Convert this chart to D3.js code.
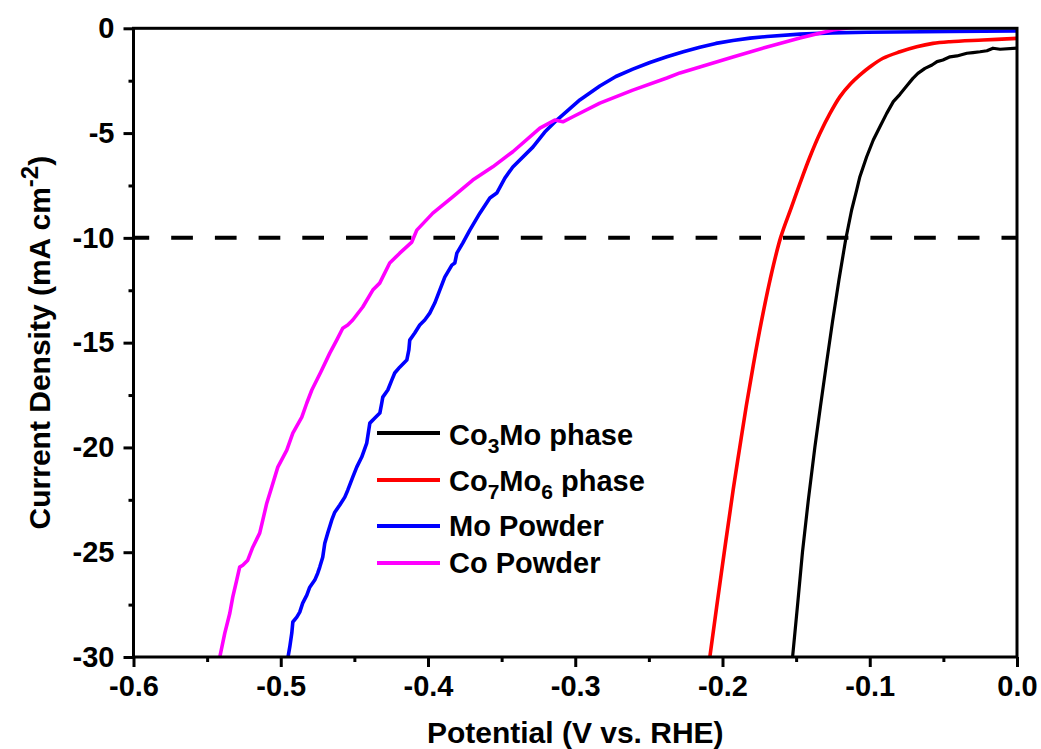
<!DOCTYPE html>
<html>
<head>
<meta charset="utf-8">
<script src="https://cdn.jsdelivr.net/npm/d3@7"></script>
<style>
  html, body { margin: 0; padding: 0; background: #fff; }
  svg text { font-family: Arial, "Liberation Sans", sans-serif; font-weight: bold; fill: #000; }
</style>
</head>
<body>
<svg id="chart" width="1041" height="749"></svg>
<script>
// ---------- data (Potential V vs. RHE, Current density mA cm^-2) ----------
const seriesNames = ["Co3Mo phase", "Co7Mo6 phase", "Mo Powder", "Co Powder"];
const seriesColors = ["#000000", "#ff0000", "#0000ff", "#ff00ff"];

const co3Mo = [
  [0, -0.95], [-0.0115, -1.0], [-0.0163, -0.95], [-0.0204, -1.07], [-0.0251, -1.12],
  [-0.0299, -1.16], [-0.034, -1.19], [-0.0408, -1.32], [-0.0455, -1.36], [-0.0503, -1.51],
  [-0.0543, -1.59], [-0.0577, -1.75], [-0.0625, -1.91], [-0.0673, -2.15], [-0.0707, -2.39],
  [-0.0755, -2.80], [-0.0795, -3.15], [-0.084, -3.50], [-0.0885, -4.06], [-0.0931, -4.70],
  [-0.0976, -5.33], [-0.1021, -6.13], [-0.1067, -7.08], [-0.1089, -7.72], [-0.1123, -8.67],
  [-0.1146, -9.47], [-0.1164, -10.1], [-0.1209, -12.0], [-0.1253, -14.0], [-0.1294, -16.0],
  [-0.1334, -18.0], [-0.1373, -20.0], [-0.1417, -22.5], [-0.1457, -25.0], [-0.1490, -27.5],
  [-0.1524, -30.0]
];
const co7Mo6 = [
  [0, -0.48], [-0.0231, -0.56], [-0.0455, -0.64], [-0.0571, -0.72], [-0.0681, -0.88],
  [-0.0795, -1.12], [-0.0910, -1.43], [-0.1000, -1.85], [-0.1070, -2.25], [-0.1130, -2.65],
  [-0.1202, -3.26], [-0.127, -4.06], [-0.1338, -5.01], [-0.1406, -6.13], [-0.1474, -7.40],
  [-0.1531, -8.52], [-0.1606, -10.0], [-0.1677, -12.0], [-0.1736, -14.0], [-0.1789, -16.0],
  [-0.1838, -18.0], [-0.1883, -20.0], [-0.1927, -22.0], [-0.2008, -26.0], [-0.2086, -30.0]
];
const moPowder = [
  [0, -0.13], [-0.0455, -0.15], [-0.1019, -0.19], [-0.1250, -0.22], [-0.1474, -0.28],
  [-0.1698, -0.39], [-0.1813, -0.47], [-0.1929, -0.58], [-0.2045, -0.72], [-0.2154, -0.90],
  [-0.2266, -1.12], [-0.2378, -1.36], [-0.2493, -1.63], [-0.2609, -1.95], [-0.2724, -2.30],
  [-0.2833, -2.75], [-0.2969, -3.42], [-0.3125, -4.38], [-0.3207, -4.95],
  [-0.3288, -5.67], [-0.3424, -6.62], [-0.3478, -7.15], [-0.3533, -7.86], [-0.3580, -8.10],
  [-0.3648, -8.82], [-0.3716, -9.63], [-0.3764, -10.25], [-0.3804, -10.73], [-0.3818, -11.2],
  [-0.3838, -11.3], [-0.3886, -11.87], [-0.3920, -12.49], [-0.3954, -13.11], [-0.3988, -13.59],
  [-0.4022, -13.92], [-0.4056, -14.16], [-0.4090, -14.54], [-0.4124, -14.88], [-0.4130, -15.35],
  [-0.4144, -15.83], [-0.4192, -16.17], [-0.4226, -16.45], [-0.4246, -16.79], [-0.4273, -17.26],
  [-0.4307, -17.6], [-0.4314, -17.88], [-0.4327, -18.36], [-0.4361, -18.6], [-0.4395, -18.84],
  [-0.4416, -19.79], [-0.4450, -20.46], [-0.4484, -20.94], [-0.4511, -21.42], [-0.4545, -22.04],
  [-0.4565, -22.37], [-0.4599, -22.75], [-0.4633, -23.09], [-0.4654, -23.47], [-0.4681, -24.09],
  [-0.4701, -24.57], [-0.4715, -25.24], [-0.4735, -25.71], [-0.4749, -26.0], [-0.4769, -26.33],
  [-0.4803, -26.67], [-0.4823, -27.05], [-0.4851, -27.43], [-0.4871, -27.86], [-0.4891, -28.1],
  [-0.4918, -28.33], [-0.4925, -28.86], [-0.4939, -29.53], [-0.4952, -30.06]
];
const coPowder = [
  [-0.100, 0.10], [-0.1135, 0.03], [-0.1250, -0.08], [-0.1474, -0.46], [-0.1698, -0.89],
  [-0.1929, -1.37], [-0.2154, -1.85], [-0.2289, -2.13], [-0.2378, -2.37], [-0.2609, -2.95],
  [-0.2833, -3.57], [-0.3016, -4.22], [-0.3084, -4.46], [-0.3139, -4.38], [-0.3240, -4.76],
  [-0.3424, -5.89], [-0.3560, -6.61], [-0.3696, -7.24], [-0.3832, -8.04], [-0.3967, -8.82],
  [-0.4076, -9.63], [-0.4110, -10.2], [-0.4192, -10.73], [-0.4260, -11.2], [-0.4328, -12.16],
  [-0.4375, -12.49], [-0.4443, -13.3], [-0.4511, -13.92], [-0.4545, -14.16], [-0.4579, -14.31],
  [-0.4620, -14.88], [-0.4667, -15.5], [-0.4728, -16.4], [-0.4789, -17.26], [-0.4823, -17.88],
  [-0.4857, -18.55], [-0.4918, -19.32], [-0.4959, -20.13], [-0.5020, -20.94], [-0.5061, -21.89],
  [-0.5095, -22.66], [-0.5122, -23.47], [-0.5143, -24.09], [-0.5190, -24.76], [-0.5224, -25.38],
  [-0.5258, -25.62], [-0.5279, -25.71], [-0.5299, -26.33], [-0.5326, -27.14], [-0.5346, -27.91],
  [-0.5380, -28.86], [-0.5414, -30.0]
];
const seriesData = [co3Mo, co7Mo6, moPowder, coPowder];

const xTicks = [-0.6, -0.5, -0.4, -0.3, -0.2, -0.1, 0.0];
const xMinorTicks = [-0.55, -0.45, -0.35, -0.25, -0.15, -0.05];
const yTicks = [0, -5, -10, -15, -20, -25, -30];
const yMinorTicks = [-2.5, -7.5, -12.5, -17.5, -22.5, -27.5];
const referenceLevel = -10;

// ---------- layout ----------
const svg = d3.select("#chart");
const L = 133.5, R = 1017, T = 28.3, B = 657;
const x = d3.scaleLinear().domain([-0.6, 0]).range([L, R]);
const y = d3.scaleLinear().domain([0, -30]).range([T, B]);

svg.append("defs").append("clipPath").attr("id", "plotclip")
  .append("rect").attr("x", L).attr("y", T).attr("width", R - L).attr("height", B - T);

// reference dashed line
svg.append("line")
  .attr("x1", x(-0.6)).attr("x2", x(0))
  .attr("y1", y(referenceLevel)).attr("y2", y(referenceLevel))
  .attr("stroke", "#000").attr("stroke-width", 4)
  .attr("stroke-dasharray", "21.7,22").attr("stroke-dashoffset", 6);

// curves
const smoothLine = d3.line().x(d => x(d[0])).y(d => y(d[1])).curve(d3.curveCatmullRom.alpha(0.5));
const rawLine = d3.line().x(d => x(d[0])).y(d => y(d[1]));
const plot = svg.append("g").attr("clip-path", "url(#plotclip)");
seriesData.forEach((s, i) => {
  plot.append("path")
    .attr("d", (i === 1 ? smoothLine : rawLine)(s))
    .attr("fill", "none")
    .attr("stroke", seriesColors[i])
    .attr("stroke-width", i === 0 ? 3.2 : 3.6)
    .attr("stroke-linejoin", "round");
});

// axes
const xAxis = d3.axisBottom(x).tickValues(xTicks).tickSize(10).tickPadding(8)
  .tickFormat(d => d.toFixed(1));
const xAxisMinor = d3.axisBottom(x).tickValues(xMinorTicks).tickSize(5).tickFormat("");
const yAxis = d3.axisLeft(y).tickValues(yTicks).tickSize(10).tickPadding(9)
  .tickFormat(d => String(d));
const yAxisMinor = d3.axisLeft(y).tickValues(yMinorTicks).tickSize(5).tickFormat("");

function styleAxis(g) {
  g.select(".domain").remove();
  g.selectAll(".tick line").attr("stroke", "#000").attr("stroke-width", 3);
  g.selectAll(".tick text").style("font-size", "29px").attr("fill", "#000");
}
svg.append("g").attr("transform", `translate(0,${B})`).call(xAxis).call(styleAxis);
svg.append("g").attr("transform", `translate(0,${B})`).call(xAxisMinor).call(styleAxis);
svg.append("g").attr("transform", `translate(${L},0)`).call(yAxis).call(styleAxis);
svg.append("g").attr("transform", `translate(${L},0)`).call(yAxisMinor).call(styleAxis);
svg.selectAll(".tick text").attr("font-family", null);

// frame
svg.append("rect")
  .attr("x", L).attr("y", T).attr("width", R - L).attr("height", B - T)
  .attr("fill", "none").attr("stroke", "#000").attr("stroke-width", 3);

// axis titles
svg.append("text")
  .attr("x", (L + R) / 2).attr("y", 743)
  .attr("text-anchor", "middle")
  .style("font-size", "30px")
  .text("Potential (V vs. RHE)");

const yt = svg.append("text")
  .attr("transform", `translate(50,${(T + B) / 2}) rotate(-90)`)
  .attr("text-anchor", "middle")
  .style("font-size", "30px");
yt.append("tspan").text("Current Density (mA cm");
yt.append("tspan").attr("dy", -12).style("font-size", "24px").text("-2");
yt.append("tspan").attr("dy", 12).text(")");

// legend
const legendRows = [
  { parts: [["Co", 0], ["3", 1], ["Mo phase", 0]], lineY: 433, base: 445 },
  { parts: [["Co", 0], ["7", 1], ["Mo", 0], ["6", 1], [" phase", 0]], lineY: 480, base: 491 },
  { parts: [["Mo Powder", 0]], lineY: 526, base: 536 },
  { parts: [["Co Powder", 0]], lineY: 563, base: 573 }
];
legendRows.forEach((row, i) => {
  svg.append("line")
    .attr("x1", 377).attr("x2", 440)
    .attr("y1", row.lineY).attr("y2", row.lineY)
    .attr("stroke", seriesColors[i]).attr("stroke-width", 4);
  const t = svg.append("text").attr("x", 449).attr("y", row.base).style("font-size", "29px");
  let sub = false;
  row.parts.forEach(([txt, isSub]) => {
    const ts = t.append("tspan").text(txt);
    if (isSub && !sub) { ts.attr("dy", 8).style("font-size", "21px"); sub = true; }
    else if (isSub && sub) { ts.style("font-size", "21px"); }
    else if (!isSub && sub) { ts.attr("dy", -8); sub = false; }
  });
});
</script>
</body>
</html>
